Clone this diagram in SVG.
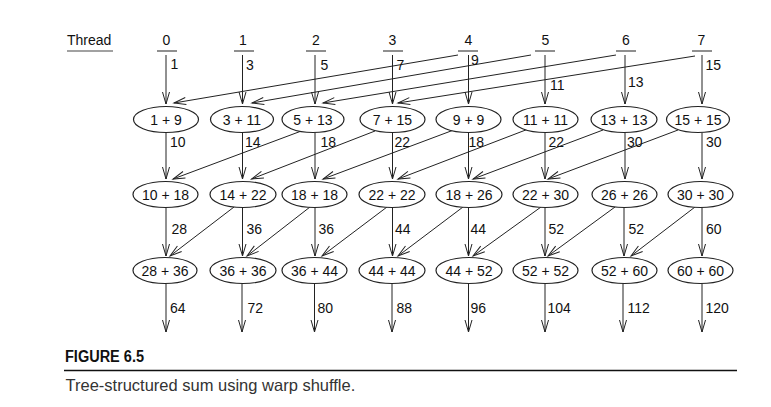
<svg xmlns="http://www.w3.org/2000/svg" width="771" height="407" viewBox="0 0 771 407">
<style>
text{font-family:"Liberation Sans",Arial,sans-serif;font-size:14px;fill:#111}
.node ellipse{fill:#fff;stroke:#222;stroke-width:1.2}
.node text{text-anchor:middle}
.hd text{text-anchor:middle}
.ul{stroke:#444;stroke-width:1.2}
.c line{stroke:#222;stroke-width:1;marker-end:url(#a)}
.cap{font-size:16.5px;fill:#333}
.fig{font-size:16px;font-weight:bold;fill:#111}
</style>
<defs>
<marker id="a" viewBox="0 0 12 7" refX="12" refY="3.5" markerWidth="12" markerHeight="7" markerUnits="userSpaceOnUse" orient="auto" overflow="visible">
<path d="M0,0 L12,3.5 L0,7" fill="none" stroke="#222" stroke-width="1"/>
</marker>
</defs>
<rect width="771" height="407" fill="#fff"/>
<g id="thread-label"><text x="67" y="44.5">Thread</text><line class="ul" x1="67" y1="51" x2="113" y2="51"/></g>
<g id="thread0" class="hd"><text x="166.5" y="44.5">0</text><line class="ul" x1="157" y1="51" x2="177" y2="51"/></g>
<g id="thread1" class="hd"><text x="243" y="44.5">1</text><line class="ul" x1="234" y1="51" x2="254" y2="51"/></g>
<g id="thread2" class="hd"><text x="316" y="44.5">2</text><line class="ul" x1="306" y1="51" x2="326" y2="51"/></g>
<g id="thread3" class="hd"><text x="392.5" y="44.5">3</text><line class="ul" x1="383" y1="51" x2="403" y2="51"/></g>
<g id="thread4" class="hd"><text x="468.5" y="44.5">4</text><line class="ul" x1="458" y1="51" x2="478" y2="51"/></g>
<g id="thread5" class="hd"><text x="545.5" y="44.5">5</text><line class="ul" x1="535" y1="51" x2="555" y2="51"/></g>
<g id="thread6" class="hd"><text x="626" y="44.5">6</text><line class="ul" x1="616" y1="51" x2="636" y2="51"/></g>
<g id="thread7" class="hd"><text x="701.5" y="44.5">7</text><line class="ul" x1="692" y1="51" x2="712" y2="51"/></g>

<g id="connectors" class="c">
<line x1="166" y1="55" x2="166" y2="104"/>
<line x1="242.5" y1="55" x2="242.5" y2="104"/>
<line x1="315" y1="55" x2="315" y2="104"/>
<line x1="392.5" y1="55" x2="392.5" y2="104"/>
<line x1="468.5" y1="55" x2="468.5" y2="104"/>
<line x1="545" y1="55" x2="545" y2="104"/>
<line x1="625" y1="55" x2="625" y2="104"/>
<line x1="702" y1="55" x2="702" y2="104"/>
<line x1="458" y1="55" x2="174" y2="103"/>
<line x1="531" y1="55" x2="252" y2="103"/>
<line x1="616" y1="55" x2="323" y2="103"/>
<line x1="695" y1="56" x2="398" y2="103"/>

<line x1="166" y1="132.5" x2="166" y2="179"/>
<line x1="242.5" y1="132.5" x2="242.5" y2="179"/>
<line x1="315" y1="132.5" x2="315" y2="179"/>
<line x1="392.5" y1="132.5" x2="392.5" y2="179"/>
<line x1="468.5" y1="132.5" x2="468.5" y2="179"/>
<line x1="545" y1="132.5" x2="545" y2="179"/>
<line x1="625" y1="132.5" x2="625" y2="179"/>
<line x1="702" y1="132.5" x2="702" y2="179"/>
<line x1="300" y1="131.5" x2="173" y2="179"/>
<line x1="375" y1="131" x2="251.5" y2="179"/>
<line x1="455" y1="129.5" x2="323" y2="179"/>
<line x1="527" y1="129.5" x2="398" y2="179"/>
<line x1="603" y1="130" x2="473" y2="179"/>
<line x1="678" y1="130" x2="548" y2="179"/>

<line x1="166" y1="207.5" x2="166" y2="256"/>
<line x1="242.5" y1="207.5" x2="242.5" y2="256"/>
<line x1="315" y1="207.5" x2="315" y2="256"/>
<line x1="392.5" y1="207.5" x2="392.5" y2="256"/>
<line x1="468.5" y1="207.5" x2="468.5" y2="256"/>
<line x1="545" y1="207.5" x2="545" y2="256"/>
<line x1="624" y1="207.5" x2="624" y2="256"/>
<line x1="702" y1="207.5" x2="702" y2="256"/>
<line x1="234" y1="207" x2="170" y2="256"/>
<line x1="310" y1="207" x2="247" y2="256"/>
<line x1="387" y1="207" x2="322" y2="256"/>
<line x1="463" y1="207" x2="398" y2="256"/>
<line x1="541" y1="207" x2="473" y2="256"/>
<line x1="615" y1="207" x2="548" y2="256"/>
<line x1="695" y1="207" x2="631" y2="256"/>

<line x1="166" y1="283.5" x2="166" y2="332"/>
<line x1="242" y1="283.5" x2="242" y2="332"/>
<line x1="314.5" y1="283.5" x2="314.5" y2="332"/>
<line x1="392" y1="283.5" x2="392" y2="332"/>
<line x1="468.5" y1="283.5" x2="468.5" y2="332"/>
<line x1="545" y1="283.5" x2="545" y2="332"/>
<line x1="623" y1="283.5" x2="623" y2="332"/>
<line x1="702" y1="283.5" x2="702" y2="332"/>
</g>

<g id="edge-labels">
<text x="170.5" y="69">1</text>
<text x="246" y="70">3</text>
<text x="320.5" y="70">5</text>
<text x="396.5" y="70">7</text>
<text x="471" y="65">9</text>
<text x="550" y="90">11</text>
<text x="628" y="87">13</text>
<text x="705.5" y="70">15</text>

<text x="170" y="146.5">10</text>
<text x="245" y="146.5">14</text>
<text x="320.5" y="146.5">18</text>
<text x="394.5" y="146.5">22</text>
<text x="468.5" y="146.5">18</text>
<text x="548.5" y="146.5">22</text>
<text x="627" y="146.5">30</text>
<text x="706" y="146.5">30</text>

<text x="171.5" y="233.5">28</text>
<text x="246.5" y="233.5">36</text>
<text x="318.5" y="233.5">36</text>
<text x="395" y="233.5">44</text>
<text x="470.5" y="233.5">44</text>
<text x="548.5" y="233.5">52</text>
<text x="628.5" y="233.5">52</text>
<text x="706" y="233.5">60</text>

<text x="170" y="312.5">64</text>
<text x="247.5" y="312.5">72</text>
<text x="317.5" y="312.5">80</text>
<text x="396.5" y="312.5">88</text>
<text x="470.5" y="312.5">96</text>
<text x="547.5" y="312.5">104</text>
<text x="627.5" y="312.5">112</text>
<text x="705.5" y="312.5">120</text>
</g>

<g id="n1-0" class="node"><ellipse cx="166" cy="119.5" rx="32.5" ry="13"/><text x="166" y="124.5">1 + 9</text></g>
<g id="n1-1" class="node"><ellipse cx="242" cy="119.5" rx="31.5" ry="13"/><text x="242" y="124.5">3 + 11</text></g>
<g id="n1-2" class="node"><ellipse cx="313" cy="119.5" rx="31" ry="13"/><text x="313" y="124.5">5 + 13</text></g>
<g id="n1-3" class="node"><ellipse cx="392.5" cy="119.5" rx="32.5" ry="13"/><text x="392.5" y="124.5">7 + 15</text></g>
<g id="n1-4" class="node"><ellipse cx="468.5" cy="119.5" rx="32.5" ry="13"/><text x="468.5" y="124.5">9 + 9</text></g>
<g id="n1-5" class="node"><ellipse cx="545.5" cy="119.5" rx="32.5" ry="13"/><text x="545.5" y="124.5">11 + 11</text></g>
<g id="n1-6" class="node"><ellipse cx="624" cy="119.5" rx="33" ry="13"/><text x="624" y="124.5">13 + 13</text></g>
<g id="n1-7" class="node"><ellipse cx="698" cy="119.5" rx="31.5" ry="13"/><text x="698" y="124.5">15 + 15</text></g>

<g id="n2-0" class="node"><ellipse cx="165.5" cy="194.5" rx="32.5" ry="13"/><text x="165.5" y="199.5">10 + 18</text></g>
<g id="n2-1" class="node"><ellipse cx="243" cy="194.5" rx="33" ry="13"/><text x="243" y="199.5">14 + 22</text></g>
<g id="n2-2" class="node"><ellipse cx="314.5" cy="194.5" rx="32.5" ry="13"/><text x="314.5" y="199.5">18 + 18</text></g>
<g id="n2-3" class="node"><ellipse cx="392" cy="194.5" rx="33" ry="13"/><text x="392" y="199.5">22 + 22</text></g>
<g id="n2-4" class="node"><ellipse cx="469" cy="194.5" rx="33" ry="13"/><text x="469" y="199.5">18 + 26</text></g>
<g id="n2-5" class="node"><ellipse cx="545.5" cy="194.5" rx="32.5" ry="13"/><text x="545.5" y="199.5">22 + 30</text></g>
<g id="n2-6" class="node"><ellipse cx="624.5" cy="194.5" rx="32.5" ry="13"/><text x="624.5" y="199.5">26 + 26</text></g>
<g id="n2-7" class="node"><ellipse cx="700.5" cy="194.5" rx="32.5" ry="13"/><text x="700.5" y="199.5">30 + 30</text></g>

<g id="n3-0" class="node"><ellipse cx="165" cy="270.5" rx="32" ry="13"/><text x="165" y="275.5">28 + 36</text></g>
<g id="n3-1" class="node"><ellipse cx="243" cy="270.5" rx="33" ry="13"/><text x="243" y="275.5">36 + 36</text></g>
<g id="n3-2" class="node"><ellipse cx="314.5" cy="270.5" rx="32.5" ry="13"/><text x="314.5" y="275.5">36 + 44</text></g>
<g id="n3-3" class="node"><ellipse cx="392" cy="270.5" rx="33" ry="13"/><text x="392" y="275.5">44 + 44</text></g>
<g id="n3-4" class="node"><ellipse cx="469" cy="270.5" rx="33" ry="13"/><text x="469" y="275.5">44 + 52</text></g>
<g id="n3-5" class="node"><ellipse cx="545.5" cy="270.5" rx="32.5" ry="13"/><text x="545.5" y="275.5">52 + 52</text></g>
<g id="n3-6" class="node"><ellipse cx="624.5" cy="270.5" rx="32.5" ry="13"/><text x="624.5" y="275.5">52 + 60</text></g>
<g id="n3-7" class="node"><ellipse cx="700.5" cy="270.5" rx="32.5" ry="13"/><text x="700.5" y="275.5">60 + 60</text></g>

<g id="caption">
<text class="fig" x="65" y="361.7" textLength="79" lengthAdjust="spacingAndGlyphs">FIGURE 6.5</text>
<line x1="64" y1="370.5" x2="737" y2="370.5" stroke="#111" stroke-width="1.3"/>
<text class="cap" x="65.5" y="390.7">Tree-structured sum using warp shuffle.</text>
</g>
</svg>
